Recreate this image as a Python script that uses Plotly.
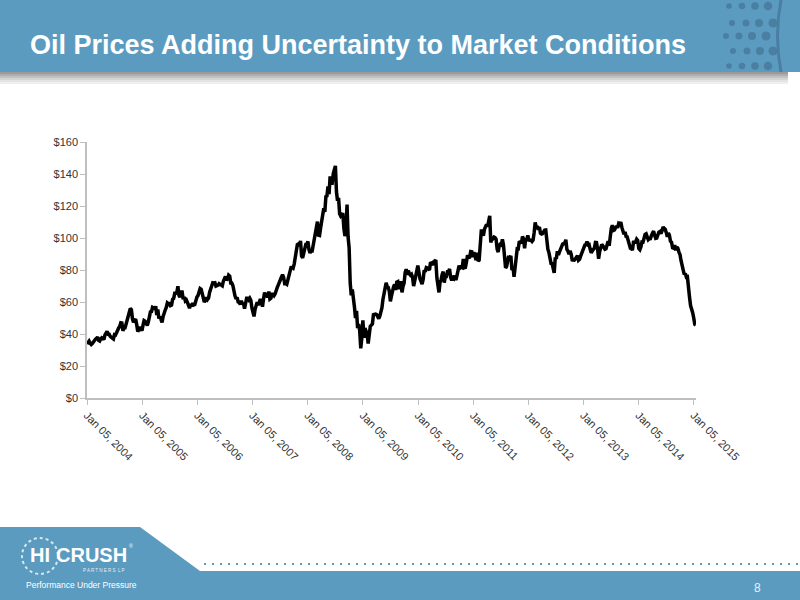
import pandas as pd
import plotly.graph_objects as go

# ---------------- data (weekly WTI) ----------------
start_date = "2004-01-05"
p2004 = [33.7, 34.7, 35.5, 34.2, 33.4, 34.0, 34.9, 36.4, 36.7, 37.2, 38.1, 36.0, 35.6,
         36.9, 37.6, 37.2, 36.5, 39.4, 40.2, 41.6, 39.9, 39.9, 38.5, 37.6, 37.4, 36.9,
         39.6, 39.4, 41.2, 41.6, 43.8, 44.8, 47.0, 46.9, 42.0, 43.9, 43.9, 46.3, 49.6,
         50.9, 53.6, 56.0, 55.2, 49.5, 47.4, 48.4, 49.4, 46.0, 41.5, 42.5, 44.4, 43.4]
p2005 = [42.1, 45.5, 48.4, 48.0, 46.8, 45.3, 47.5, 51.5, 53.8, 54.0, 56.7, 56.4, 55.4,
         57.3, 51.9, 55.4, 49.7, 50.9, 48.7, 47.2, 51.0, 53.6, 55.0, 56.6, 59.4, 58.8,
         59.6, 57.8, 58.1, 61.6, 62.3, 65.4, 65.4, 66.1, 69.8, 64.1, 63.0, 66.2, 66.2,
         61.8, 63.1, 60.7, 61.3, 59.8, 57.5, 56.1, 58.7, 57.3, 59.4, 58.1, 58.4, 61.0]
p2006 = [63.1, 64.0, 66.3, 68.4, 67.9, 65.4, 61.2, 60.0, 61.1, 62.9, 61.6, 62.5, 66.2,
         67.9, 69.3, 72.0, 71.9, 72.0, 69.9, 70.1, 70.5, 71.5, 70.8, 70.2, 70.1, 73.0,
         74.9, 76.0, 73.5, 74.6, 76.8, 76.2, 71.8, 71.8, 70.3, 66.3, 63.9, 62.0, 62.9,
         60.0, 59.7, 58.5, 60.8, 58.7, 59.5, 55.8, 58.5, 62.4, 62.4, 61.4, 62.4, 61.1]
p2007 = [56.3, 52.0, 51.0, 55.4, 58.1, 59.9, 58.0, 61.1, 61.8, 60.1, 57.1, 61.9, 65.9,
         64.3, 63.6, 63.1, 66.5, 61.9, 62.4, 64.9, 64.9, 64.0, 65.1, 68.0, 69.1, 70.7,
         72.8, 73.9, 75.6, 77.0, 75.5, 71.5, 71.6, 71.1, 74.0, 76.7, 79.1, 81.6, 81.7,
         81.2, 83.7, 88.6, 91.9, 95.9, 96.3, 95.1, 98.2, 88.7, 87.6, 91.3, 93.3, 96.0, 96.0]
p2008 = [97.9, 92.7, 90.7, 91.8, 91.8, 95.5, 98.8, 101.8, 105.2, 110.2, 101.8, 101.6, 106.2,
         110.1, 116.7, 118.5, 116.3, 125.9, 126.3, 132.2, 127.4, 138.5, 134.9, 134.6, 140.2, 143.6,
         145.1, 128.9, 123.3, 125.1, 115.2, 113.8, 114.6, 115.5, 106.2, 101.2, 104.6, 120.9, 100.6,
         93.9, 71.9, 64.2, 67.8, 63.9, 57.0, 50.0, 54.4, 43.7, 46.3, 42.0, 31.0, 37.7]
p2009 = [48.6, 37.6, 43.7, 41.7, 40.2, 34.0, 38.9, 44.8, 45.5, 46.3, 52.1, 52.4, 52.5,
         52.2, 50.3, 49.6, 51.1, 53.2, 56.3, 61.7, 66.3, 68.4, 72.0, 69.6, 69.2, 66.7,
         60.4, 63.6, 68.1, 69.5, 70.9, 67.5, 72.4, 72.7, 68.0, 72.0, 72.0, 66.0, 69.9,
         71.8, 78.5, 80.5, 77.0, 79.6, 77.5, 76.7, 77.3, 75.5, 69.9, 73.4, 78.8, 79.4]
p2010 = [82.8, 78.0, 74.5, 72.9, 71.2, 74.1, 79.8, 78.9, 81.5, 81.2, 80.7, 80.0, 84.9,
         84.3, 83.2, 85.1, 85.7, 86.2, 75.1, 71.6, 66.0, 72.5, 73.8, 77.2, 78.9, 72.1,
         76.1, 76.0, 78.9, 78.9, 80.7, 75.4, 73.5, 75.2, 74.6, 76.5, 73.7, 76.5, 81.6,
         82.7, 81.2, 81.7, 81.4, 86.9, 81.5, 81.7, 85.0, 89.2, 87.8, 88.0, 91.5, 91.4]
p2011 = [88.0, 91.1, 89.1, 86.2, 90.8, 85.6, 86.2, 97.9, 104.4, 104.4, 101.4, 105.4, 106.7,
         108.5, 107.1, 112.3, 113.9, 97.2, 99.7, 99.5, 100.6, 100.2, 99.3, 93.0, 91.2, 95.4,
         96.2, 95.7, 99.1, 95.7, 86.6, 81.3, 82.3, 85.4, 88.9, 87.2, 88.9, 79.9, 82.1,
         75.7, 85.4, 87.4, 93.3, 93.2, 98.0, 97.7, 96.8, 100.9, 99.4, 93.5, 99.7, 99.0]
p2012 = [101.6, 98.7, 98.5, 98.6, 97.8, 98.7, 103.2, 109.8, 106.7, 107.4, 105.1, 106.9, 103.0,
         102.5, 102.8, 103.9, 104.9, 105.0, 97.0, 93.0, 90.9, 87.0, 84.1, 84.0, 79.8, 78.2,
         87.7, 87.1, 91.8, 89.4, 91.4, 92.9, 95.6, 96.2, 96.5, 96.4, 99.0, 92.9, 91.9,
         89.9, 91.9, 90.1, 86.3, 85.9, 86.1, 86.9, 88.3, 88.9, 86.1, 86.7, 88.7, 90.8, 93.1]
p2013 = [93.6, 95.6, 95.9, 97.8, 95.7, 95.9, 93.1, 90.7, 91.9, 93.5, 93.7, 97.2,
         97.1, 93.3, 87.0, 91.6, 94.5, 96.0, 95.2, 94.0, 93.0, 93.3, 96.0, 98.0, 95.2,
         103.2, 106.0, 108.0, 104.7, 105.0, 105.9, 107.5, 106.4, 109.0,
         108.5, 110.0, 106.6, 103.0, 102.3, 103.8, 101.0, 100.7, 97.9,
         94.6, 93.8, 93.8, 92.3, 97.4, 97.4, 97.5, 99.2, 98.4]
p2014 = [93.4, 92.7, 94.4, 97.5, 97.4, 100.3, 102.2, 102.6, 101.0, 98.9, 99.5, 99.6, 101.6,
         103.7, 104.3, 101.7, 99.8, 100.0, 102.0, 103.7, 104.1, 102.7, 104.4, 106.9, 106.0, 105.4,
         103.5, 100.8, 103.1, 101.7, 97.9, 97.4, 93.9, 93.6, 95.5, 92.3, 94.4, 93.5, 91.2,
         89.7, 85.8, 82.8, 81.0, 77.2, 77.9, 75.6, 75.8, 67.4, 63.1, 57.8, 56.1, 53.3]
p2015 = [50.0, 46.1, 45.5]

tick_dates = ["2004-01-05", "2005-01-05", "2006-01-05", "2007-01-05", "2008-01-05", "2009-01-05",
              "2010-01-05", "2011-01-05", "2012-01-05", "2013-01-05", "2014-01-05", "2015-01-05"]
tick_labels = ["Jan 05, 2004", "Jan 05, 2005", "Jan 05, 2006", "Jan 05, 2007", "Jan 05, 2008",
               "Jan 05, 2009", "Jan 05, 2010", "Jan 05, 2011", "Jan 05, 2012", "Jan 05, 2013",
               "Jan 05, 2014", "Jan 05, 2015"]
y_ticks = [0, 20, 40, 60, 80, 100, 120, 140, 160]
y_labels = ["$0", "$20", "$40", "$60", "$80", "$100", "$120", "$140", "$160"]

title_text = "Oil Prices Adding Uncertainty to Market Conditions"
page_no = "8"

prices = p2004 + p2005 + p2006 + p2007 + p2008 + p2009 + p2010 + p2011 + p2012 + p2013 + p2014 + p2015
dates = pd.date_range(start_date, periods=len(prices), freq="7D")

# ---------------- layout geometry ----------------
W, H = 800, 600
L, R, T, B = 87, 104, 142, 202
PW = W - L - R
PH = H - T - B


def fx(px):
    return (px - L) / PW


def fy(py):
    return (H - B - py) / PH


BLUE = "#5b9bc0"
DOT = "#4a7fa2"
FONT = "Liberation Sans, Arial, sans-serif"

fig = go.Figure()
fig.add_trace(go.Scatter(x=dates, y=prices, mode="lines",
                         line=dict(color="#000000", width=3.5), hoverinfo="skip",
                         showlegend=False))

shapes = []
# header band
shapes.append(dict(type="rect", xref="paper", yref="paper", x0=fx(0), x1=fx(800),
                   y0=fy(72), y1=fy(0), fillcolor=BLUE, line=dict(width=0), layer="below"))
# header shadow
shadow_cols = ["#9a9a9a", "#aeaeae", "#c2c2c2", "#d4d4d4", "#e3e3e3", "#efefef"]
for i, c in enumerate(shadow_cols):
    shapes.append(dict(type="rect", xref="paper", yref="paper", x0=fx(0), x1=fx(788),
                       y0=fy(72 + 2 * (i + 1)), y1=fy(72 + 2 * i), fillcolor=c,
                       line=dict(width=0), layer="below"))
# header dots
dot_rows = [
    (6, [(729, 2.8), (742, 3.3), (755, 3.8), (768, 4.3)]),
    (23, [(732, 3.0), (746, 3.5), (759, 4.0), (773, 4.5)]),
    (36, [(726, 3.0), (739, 3.5), (752, 4.0), (766, 4.5)]),
    (51, [(733, 3.0), (747, 3.5), (760, 4.0), (773, 4.5)]),
    (66, [(729, 2.8), (742, 3.3), (755, 3.8), (768, 4.3)]),
]
for yy, pts in dot_rows:
    for xx, r in pts:
        shapes.append(dict(type="circle", xref="paper", yref="paper",
                           x0=fx(xx - r), x1=fx(xx + r), y0=fy(yy + r), y1=fy(yy - r),
                           fillcolor=DOT, line=dict(width=0)))
# header curve at right
shapes.append(dict(type="path", xref="paper", yref="paper",
                   path=f"M {fx(781)},{fy(0)} Q {fx(774)},{fy(36)} {fx(781)},{fy(72)}",
                   line=dict(color=DOT, width=3)))
# footer shape
fp = [(0, 527), (140, 527), (200, 571), (800, 571), (800, 600), (0, 600)]
path = "M " + " L ".join(f"{fx(a)},{fy(b)}" for a, b in fp) + " Z"
shapes.append(dict(type="path", xref="paper", yref="paper", path=path,
                   fillcolor=BLUE, line=dict(width=0), layer="below"))
# footer dotted line
shapes.append(dict(type="line", xref="paper", yref="paper", x0=fx(204), x1=fx(800),
                   y0=fy(564), y1=fy(564), line=dict(color=BLUE, width=2.2, dash="2px,6px")))
# logo ornament
shapes.append(dict(type="circle", xref="paper", yref="paper", x0=fx(22), x1=fx(58),
                   y0=fy(574), y1=fy(538), line=dict(color="#d8e8f2", width=2, dash="dot")))

annotations = [
    dict(text=f"<b>{title_text}</b>", x=fx(28), y=fy(45), xref="paper", yref="paper",
         xanchor="left", yanchor="middle", showarrow=False,
         font=dict(family=FONT, size=27, color="#ffffff")),
    dict(text="<b>HI</b>", x=fx(40), y=fy(555), xref="paper", yref="paper",
         xanchor="center", yanchor="middle", showarrow=False, borderpad=0,
         font=dict(family=FONT, size=20, color="#ffffff")),
    dict(text="<b>CRUSH</b>", x=fx(91), y=fy(555), xref="paper", yref="paper",
         xanchor="center", yanchor="middle", showarrow=False, borderpad=0,
         font=dict(family=FONT, size=20, color="#ffffff")),
    dict(text="®", x=fx(131), y=fy(546), xref="paper", yref="paper",
         xanchor="center", yanchor="middle", showarrow=False, borderpad=0,
         font=dict(family=FONT, size=5, color="#ffffff")),
    dict(text="P A R T N E R S  L P", x=fx(104), y=fy(570), xref="paper", yref="paper",
         xanchor="center", yanchor="middle", showarrow=False, borderpad=0,
         font=dict(family=FONT, size=4.5, color="#e6f0f6")),
    dict(text="Performance Under Pressure", x=fx(81), y=fy(585), xref="paper", yref="paper",
         xanchor="center", yanchor="middle", showarrow=False, borderpad=0,
         font=dict(family=FONT, size=8.5, color="#ffffff")),
    dict(text=page_no, x=fx(757), y=fy(588), xref="paper", yref="paper",
         xanchor="center", yanchor="middle", showarrow=False,
         font=dict(family=FONT, size=12, color="#e8f0f6")),
]

fig.update_layout(
    width=W, height=H,
    margin=dict(l=L, r=R, t=T, b=B, pad=0),
    paper_bgcolor="#ffffff", plot_bgcolor="#ffffff",
    shapes=shapes, annotations=annotations,
    showlegend=False,
    font=dict(family=FONT, size=11, color="#333333"),
    xaxis=dict(
        type="date",
        range=["2004-01-05", "2015-01-20"],
        tickmode="array", tickvals=tick_dates, ticktext=tick_labels,
        tickangle=45, ticks="outside", ticklen=5, tickcolor="#bfbfbf",
        showline=True, linecolor="#bfbfbf", linewidth=1.5,
        showgrid=False, zeroline=False,
        tickfont=dict(size=11, color="#333333"),
    ),
    yaxis=dict(
        range=[0, 160], tickmode="array", tickvals=y_ticks, ticktext=y_labels,
        ticks="outside", ticklen=5, tickcolor="#bfbfbf",
        showline=True, linecolor="#bfbfbf", linewidth=1.5,
        showgrid=False, zeroline=False,
        tickfont=dict(size=11, color="#333333"),
    ),
)

fig.write_html("out.html", config={"displayModeBar": False},
               post_script="document.body.style.margin='0';document.body.style.padding='0';")
